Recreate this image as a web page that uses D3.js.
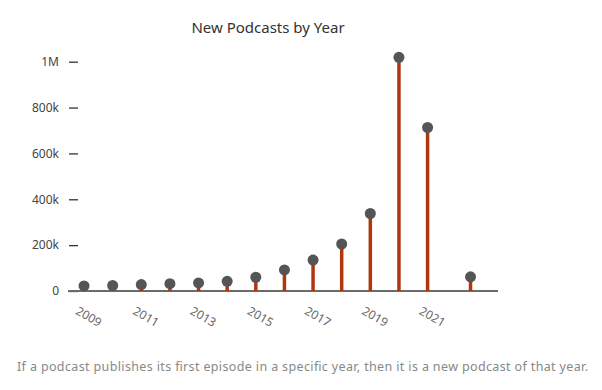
<!DOCTYPE html>
<html>
<head>
<meta charset="utf-8">
<script src="https://cdn.jsdelivr.net/npm/d3@7"></script>
<style>
  body { margin: 0; background: #fff; font-family: "Noto Sans", "Open Sans", sans-serif; }
</style>
</head>
<body>
<div id="chart"></div>
<script>
// years (last point sits half a step past 2021 in the picture)
const years = [2009, 2010, 2011, 2012, 2013, 2014, 2015, 2016, 2017, 2018, 2019, 2020, 2021, 2022.5];
const newPodcasts = [22000, 24000, 28000, 32000, 35000, 42000, 60000, 92000, 135000, 205000, 338000, 1019000, 713000, 62000];
const yTicks = [0, 200000, 400000, 600000, 800000, 1000000];
const yTickLabels = ["0", "200k", "400k", "600k", "800k", "1M"];
const xTicks = [2009, 2011, 2013, 2015, 2017, 2019, 2021];

const width = 602, height = 390;
const svg = d3.select("#chart").append("svg")
    .attr("width", width)
    .attr("height", height);

const x = d3.scaleLinear().domain([2008.44, 2023.46]).range([68, 498]);
const y = d3.scaleLinear().domain([0, 1000000]).range([291, 61.7]);

// title
svg.append("text")
    .attr("x", 268).attr("y", 33)
    .attr("text-anchor", "middle")
    .attr("font-size", 15)
    .attr("fill", "#333")
    .text("New Podcasts by Year");

// y axis: ticks only
const yAxis = svg.append("g")
    .attr("transform", "translate(78,0)")
    .call(d3.axisLeft(y).tickValues(yTicks).tickSize(9).tickPadding(10)
        .tickFormat((d, i) => yTickLabels[i]));
yAxis.select(".domain").remove();
yAxis.selectAll(".tick line").attr("stroke", "#333").attr("stroke-width", 1.3);
yAxis.selectAll(".tick text").attr("fill", "#444").attr("font-size", 12)
    .attr("font-family", "Noto Sans, sans-serif");

// x baseline
svg.append("line")
    .attr("x1", x.range()[0]).attr("x2", x.range()[1])
    .attr("y1", y(0)).attr("y2", y(0))
    .attr("stroke", "#6b6b6b").attr("stroke-width", 2);

// x labels, rotated
svg.append("g").selectAll("text")
    .data(xTicks)
    .enter().append("text")
    .attr("transform", d => `translate(${x(d) - 5},${306}) rotate(30)`)
    .attr("dy", "0.71em")
    .attr("font-size", 12)
    .attr("fill", "#666")
    .text(d => d);

// stems
svg.append("g").selectAll("line")
    .data(years)
    .enter().append("line")
    .attr("x1", d => x(d)).attr("x2", d => x(d))
    .attr("y1", y(0))
    .attr("y2", (d, i) => y(newPodcasts[i]))
    .attr("stroke", "#b0360e")
    .attr("stroke-width", 3.5);

// dots
svg.append("g").selectAll("circle")
    .data(years)
    .enter().append("circle")
    .attr("cx", d => x(d))
    .attr("cy", (d, i) => y(newPodcasts[i]))
    .attr("r", 5.5)
    .attr("fill", "#555");

// footnote
svg.append("text")
    .attr("x", 17).attr("y", 371)
    .attr("font-size", 12.5)
    .attr("fill", "#888")
    .attr("textLength", 571)
    .text("If a podcast publishes its first episode in a specific year, then it is a new podcast of that year.");
</script>
</body>
</html>
